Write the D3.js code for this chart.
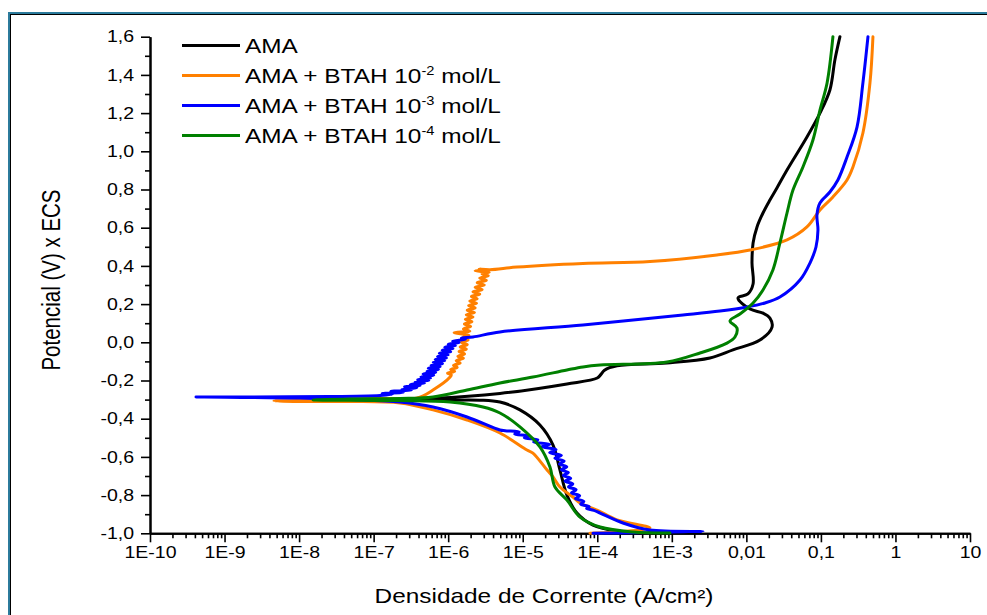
<!DOCTYPE html>
<html>
<head>
<meta charset="utf-8">
<script src="https://cdn.jsdelivr.net/npm/d3@7"></script>
<style>
  html, body { margin: 0; padding: 0; background: #fff; }
  svg { display: block; }
  text { font-family: "Liberation Sans", Arial, sans-serif; fill: #000; }
</style>
</head>
<body>
<svg id="chart" width="987" height="615"></svg>
<script>
// ---- Polarization curves: [current density (A/cm²), potential (V vs ECS)] in scan order ----
const amaCurve = [
  [3.74e-4,-0.998],[1.84e-4,-0.988],[8.75e-5,-0.957],[5.34e-5,-0.894],[3.92e-5,-0.80],
  [3.16e-5,-0.669],[2.55e-5,-0.538],[1.70e-5,-0.433],[9.18e-6,-0.354],[4.95e-6,-0.313],
  [2.67e-6,-0.303],[4.19e-7,-0.305],[6.56e-8,-0.302],[2.60e-8,-0.300],[6.56e-8,-0.298],
  [6.25e-7,-0.293],[4.95e-6,-0.268],[3.92e-5,-0.218],[1.0e-4,-0.187],[1.12e-4,-0.168],
  [1.25e-4,-0.146],[1.84e-4,-0.123],[8.61e-4,-0.108],[3.25e-3,-0.082],[6.61e-3,-0.04],
  [1.52e-2,0.012],[2.21e-2,0.080],[2.07e-2,0.127],[1.67e-2,0.153],[1.12e-2,0.174],
  [7.72e-3,0.232],[1.05e-2,0.253],[1.23e-2,0.305],[1.19e-2,0.415],[1.23e-2,0.52],
  [1.39e-2,0.604],[1.67e-2,0.677],[2.07e-2,0.745],[2.57e-2,0.808],[3.51e-2,0.902],
  [6.50e-2,1.075],[9.71e-2,1.20],[0.132,1.321],[0.154,1.478],[0.180,1.6]
];

const btah2Curve = [
  [7.98e-5,-1.0],[5.09e-4,-0.972],[1.84e-4,-0.930],[9.9e-5,-0.878],[5.86e-5,-0.841],
  [4.72e-5,-0.81],[3.16e-5,-0.758],[2.55e-5,-0.705],[2.12e-5,-0.669],[1.37e-5,-0.58],
  [1.14e-5,-0.564],[4.95e-6,-0.475],[1.79e-6,-0.407],[6.25e-7,-0.354],[2.26e-7,-0.318],
  [4.82e-8,-0.31],[1.03e-8,-0.31],[4.61e-9,-0.307],[1.91e-8,-0.302],[1.22e-7,-0.294],
  [3.82e-7,-0.292],[6.25e-7,-0.25],[1.06e-6,-0.182],
  [1.10e-6,-0.17],[0.98e-6,-0.162],[1.22e-6,-0.152],[1.08e-6,-0.143],[1.32e-6,-0.131],
  [1.18e-6,-0.121],[1.45e-6,-0.108],[1.28e-6,-0.097],[1.6e-6,-0.084],[1.35e-6,-0.073],
  [1.66e-6,-0.061],[1.4e-6,-0.048],[1.75e-6,-0.036],[1.45e-6,-0.024],[1.8e-6,-0.012],
  [1.5e-6,0.0],[1.85e-6,0.012],[1.55e-6,0.024],[1.9e-6,0.036],[1.2e-6,0.05],
  [1.95e-6,0.058],[1.6e-6,0.07],[2.0e-6,0.083],[1.65e-6,0.096],[2.08e-6,0.108],
  [1.7e-6,0.12],[2.15e-6,0.132],[1.75e-6,0.144],[2.25e-6,0.156],[1.8e-6,0.168],
  [2.3e-6,0.18],[1.88e-6,0.192],[2.4e-6,0.204],[1.95e-6,0.216],[2.45e-6,0.228],
  [2.05e-6,0.24],[2.65e-6,0.252],[2.15e-6,0.264],[2.85e-6,0.276],[2.3e-6,0.288],
  [3.05e-6,0.3],[2.45e-6,0.312],[3.25e-6,0.324],[2.65e-6,0.336],[3.45e-6,0.348],
  [2.85e-6,0.358],[3.55e-6,0.366],[2.3e-6,0.374],[3.2e-6,0.378],[2.6e-6,0.383],
  [3.64e-6,0.38],[8.37e-6,0.394],[6.43e-5,0.413],[5.09e-4,0.423],[4.03e-3,0.457],
  [1.12e-2,0.483],[3.51e-2,0.536],[6.50e-2,0.604],[9.71e-2,0.693],[0.145,0.761],
  [0.224,0.85],[0.269,0.918],[0.366,1.096],[0.455,1.358],[0.499,1.6]
];

const btah3Curve = [
  [8.75e-5,-1.0],[2.62e-3,-0.991],[5.09e-4,-0.983],[2.21e-4,-0.946],[1.09e-4,-0.894],
  [9.0e-5,-0.88],[7.2e-5,-0.87],[7.8e-5,-0.86],[6.0e-5,-0.847],[6.6e-5,-0.833],
  [5.1e-5,-0.818],[5.8e-5,-0.803],[4.5e-5,-0.788],[5.2e-5,-0.772],[4.1e-5,-0.757],
  [4.7e-5,-0.742],[3.7e-5,-0.727],[4.4e-5,-0.712],[3.5e-5,-0.697],[4.1e-5,-0.682],
  [3.3e-5,-0.667],[3.9e-5,-0.652],[3.1e-5,-0.637],[3.6e-5,-0.622],[2.7e-5,-0.607],
  [3.3e-5,-0.592],[2.3e-5,-0.577],[2.8e-5,-0.562],[1.8e-5,-0.547],[2.3e-5,-0.534],
  [1.4e-5,-0.522],[1.6e-5,-0.511],[1.05e-5,-0.50],[1.2e-5,-0.49],[7.8e-6,-0.48],
  [9e-6,-0.47],[5.8e-6,-0.463],[4.95e-6,-0.459],[1.79e-6,-0.391],[6.25e-7,-0.339],
  [2.26e-7,-0.313],[4.82e-8,-0.30],[1.03e-8,-0.292],[4.14e-10,-0.286],[2.19e-9,-0.286],
  [2.60e-8,-0.284],[1.22e-7,-0.278],
  [1.8e-7,-0.272],[1.3e-7,-0.268],[2.5e-7,-0.262],[1.7e-7,-0.257],[3.2e-7,-0.25],
  [2.4e-7,-0.246],[3.8e-7,-0.238],[2.6e-7,-0.233],[4.2e-7,-0.227],[3.1e-7,-0.221],
  [4.8e-7,-0.214],[3.6e-7,-0.208],[5.5e-7,-0.2],[3.9e-7,-0.195],[5.8e-7,-0.188],
  [4.3e-7,-0.181],[6.4e-7,-0.172],[4.6e-7,-0.166],[6.8e-7,-0.158],[5.2e-7,-0.151],
  [7.4e-7,-0.142],[5.4e-7,-0.136],[7.8e-7,-0.128],[5.9e-7,-0.121],[8.4e-7,-0.112],
  [6.3e-7,-0.105],[9.0e-7,-0.097],[6.7e-7,-0.09],[9.5e-7,-0.082],[7.2e-7,-0.074],
  [1.0e-6,-0.066],[7.6e-7,-0.058],[1.08e-6,-0.05],[8.3e-7,-0.042],[1.16e-6,-0.034],
  [9.0e-7,-0.026],[1.25e-6,-0.018],[1.0e-6,-0.01],[1.4e-6,-0.002],[1.15e-6,0.006],
  [1.7e-6,0.015],[1.5e-6,0.021],[2.15e-6,0.028],
  [4.95e-6,0.054],[6.43e-5,0.091],[1.41e-3,0.143],[4.43e-3,0.164],[1.02e-2,0.185],
  [1.78e-2,0.206],[2.82e-2,0.237],[5.24e-2,0.326],[7.13e-2,0.415],[8.59e-2,0.499],
  [9.13e-2,0.588],[8.85e-2,0.666],[9.71e-2,0.729],[0.132,0.787],[0.169,0.85],
  [0.224,0.97],[0.305,1.127],[0.366,1.358],[0.428,1.6]
];

const btah4Curve = [
  [9.44e-4,-0.998],[3.01e-4,-0.993],[1.09e-4,-0.967],[5.86e-5,-0.915],[3.92e-5,-0.826],
  [2.71e-5,-0.758],[2.32e-5,-0.653],[1.70e-5,-0.548],[9.18e-6,-0.443],[4.95e-6,-0.37],
  [2.93e-6,-0.339],[1.06e-6,-0.313],[2.26e-7,-0.305],[1.54e-8,-0.302],[4.82e-8,-0.297],
  [2.26e-7,-0.294],[6.25e-7,-0.286],[1.79e-6,-0.25],[4.95e-6,-0.213],[1.37e-5,-0.182],
  [3.92e-5,-0.145],[6.43e-5,-0.129],[1.09e-4,-0.119],[8.61e-4,-0.103],[2.39e-3,-0.056],
  [5.49e-3,-0.004],[7.03e-3,0.028],[7.48e-3,0.075],[6.03e-3,0.112],[8.20e-3,0.148],
  [1.23e-2,0.206],[1.67e-2,0.274],[2.27e-2,0.379],[2.82e-2,0.52],[3.51e-2,0.677],
  [4.22e-2,0.797],[5.74e-2,0.918],[7.82e-2,1.059],[9.71e-2,1.216],[0.121,1.358],
  [0.145,1.6]
];

const seriesLabels = ["AMA", "AMA + BTAH 10", "AMA + BTAH 10", "AMA + BTAH 10"];
const seriesExponents = ["", "-2", "-3", "-4"];
const seriesUnits = ["", " mol/L", " mol/L", " mol/L"];
const seriesColors = ["#000000", "#ff8000", "#0000ff", "#008000"];

const currentTicks = [1e-10, 1e-9, 1e-8, 1e-7, 1e-6, 1e-5, 1e-4, 1e-3, 1e-2, 1e-1, 1, 10];
const currentTickLabels = ["1E-10", "1E-9", "1E-8", "1E-7", "1E-6", "1E-5", "1E-4", "1E-3", "0,01", "0,1", "1", "10"];
const potentialTicks = [-1.0, -0.8, -0.6, -0.4, -0.2, 0.0, 0.2, 0.4, 0.6, 0.8, 1.0, 1.2, 1.4, 1.6];
const potentialTickLabels = ["-1,0", "-0,8", "-0,6", "-0,4", "-0,2", "0,0", "0,2", "0,4", "0,6", "0,8", "1,0", "1,2", "1,4", "1,6"];

const xTitle = "Densidade de Corrente (A/cm²)";
const yTitle = "Potencial (V) x ECS";

// ---- Layout ----
const svg = d3.select("#chart");
const plot = { left: 150, right: 970, top: 36.7, bottom: 533.3 };
const stretch = 1.22;          // horizontal widening of the typeface
const tickFont = 16;

const x = d3.scaleLog().domain([1e-10, 10]).range([plot.left, plot.right]);
const y = d3.scaleLinear().domain([-1.0, 1.6]).range([plot.bottom, plot.top]);

// Frame
svg.append("rect").attr("x", 0).attr("y", 0).attr("width", 987).attr("height", 615).attr("fill", "#fff");
svg.append("rect").attr("x", 9).attr("y", 13).attr("width", 1000).attr("height", 640)
  .attr("fill", "none").attr("stroke", "#2c7b9c").attr("stroke-width", 2);
svg.append("rect").attr("x", 10.5).attr("y", 14.5).attr("width", 1000).attr("height", 640)
  .attr("fill", "none").attr("stroke", "#000").attr("stroke-width", 1);

// Minor tick values
const minorX = [];
currentTicks.slice(0, -1).forEach(d => { for (let k = 2; k <= 9; k++) minorX.push(d * k); });
const minorY = d3.range(-0.9, 1.6, 0.2).map(v => +v.toFixed(1));

// ---- Axes ----
const xAxisMinor = d3.axisBottom(x).tickValues(minorX).tickSize(5).tickFormat("").tickSizeOuter(0);
const xAxis = d3.axisBottom(x).tickValues(currentTicks).tickSize(9).tickPadding(5)
  .tickFormat((d, i) => currentTickLabels[i]).tickSizeOuter(0);
const yAxisMinor = d3.axisLeft(y).tickValues(minorY).tickSize(5).tickFormat("").tickSizeOuter(0);
const yAxis = d3.axisLeft(y).tickValues(potentialTicks).tickSize(9).tickPadding(7)
  .tickFormat((d, i) => potentialTickLabels[i]).tickSizeOuter(0);

function styleAxis(g) {
  g.selectAll("path.domain").attr("stroke", "#000").attr("stroke-width", 2);
  g.selectAll(".tick line").attr("stroke", "#000").attr("stroke-width", 1.6);
  g.selectAll("text").attr("font-family", "'Liberation Sans', Arial, sans-serif")
    .attr("font-size", tickFont).attr("fill", "#000");
}

const gxm = svg.append("g").attr("transform", `translate(0,${plot.bottom})`).call(xAxisMinor);
styleAxis(gxm);
const gx = svg.append("g").attr("transform", `translate(0,${plot.bottom})`).call(xAxis);
styleAxis(gx);
gx.selectAll("text").attr("transform", `scale(${stretch},1)`).attr("y", 13).attr("dy", "0.71em");

const gym = svg.append("g").attr("transform", `translate(${plot.left},0)`).call(yAxisMinor);
styleAxis(gym);
const gy = svg.append("g").attr("transform", `translate(${plot.left},0)`).call(yAxis);
styleAxis(gy);
gy.selectAll("text").attr("transform", `scale(${stretch},1)`).attr("x", -16 / stretch);

// ---- Curves ----
const line = d3.line()
  .x(d => x(d[0])).y(d => y(d[1]))
  .curve(d3.curveCatmullRom.alpha(0.5));
const curves = [amaCurve, btah2Curve, btah3Curve, btah4Curve];
curves.forEach((c, i) => {
  svg.append("path").datum(c).attr("d", line)
    .attr("fill", "none").attr("stroke", seriesColors[i])
    .attr("stroke-width", 3).attr("stroke-linejoin", "round").attr("stroke-linecap", "round");
});

// ---- Legend ----
const legend = svg.append("g");
const legendFont = 20;
seriesLabels.forEach((lab, i) => {
  const cy = 45.5 + i * 30;
  legend.append("line").attr("x1", 182).attr("x2", 240).attr("y1", cy).attr("y2", cy)
    .attr("stroke", seriesColors[i]).attr("stroke-width", 3);
  const t = legend.append("text")
    .attr("transform", `translate(245,${cy + 7}) scale(${stretch},1)`)
    .attr("font-size", legendFont);
  t.append("tspan").text(lab);
  if (seriesExponents[i]) {
    t.append("tspan").attr("font-size", 12).attr("dy", -7.5).text(seriesExponents[i]);
    t.append("tspan").attr("font-size", legendFont).attr("dy", 7.5).text(seriesUnits[i]);
  }
});

// ---- Axis titles ----
svg.append("text")
  .attr("transform", `translate(544,603) scale(${stretch},1)`)
  .attr("text-anchor", "middle").attr("font-size", 20).text(xTitle);
svg.append("text")
  .attr("transform", `translate(60,280) scale(${stretch},1) rotate(-90)`)
  .attr("text-anchor", "middle").attr("font-size", 20.5).text(yTitle);
</script>
</body>
</html>
